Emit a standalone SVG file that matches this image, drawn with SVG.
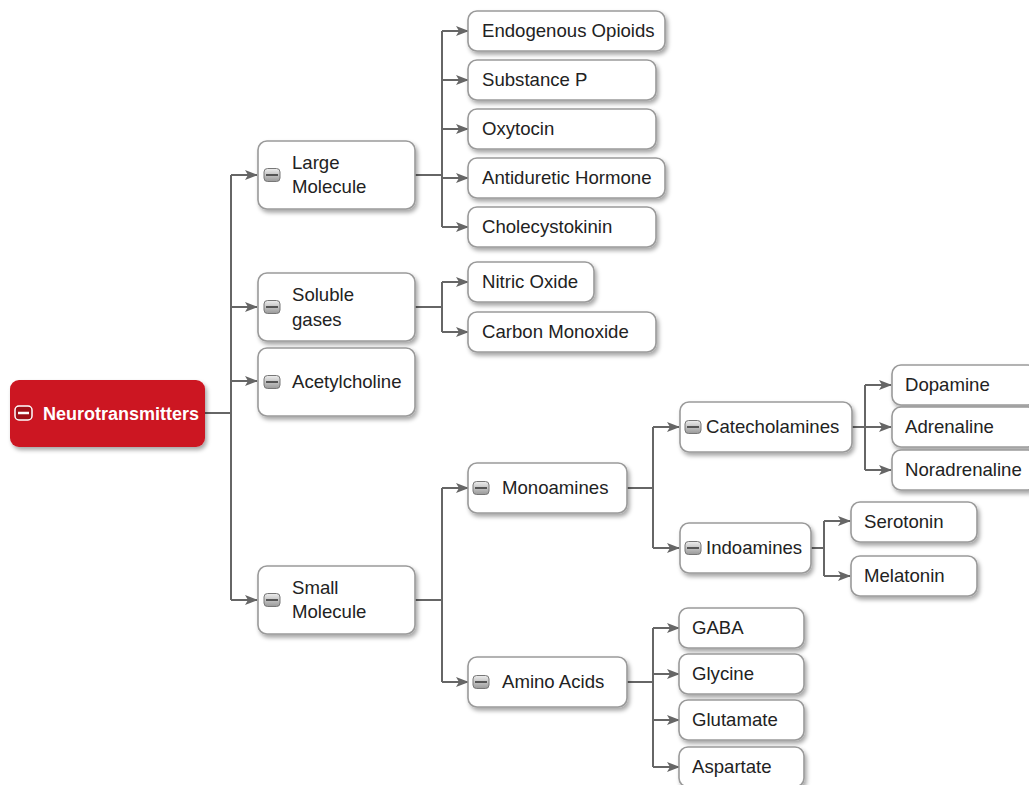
<svg xmlns="http://www.w3.org/2000/svg" width="1029" height="785" viewBox="0 0 1029 785">
<style>
.box{fill:#fff;stroke:#9a9a9a;stroke-width:1.6;filter:url(#sh)}
.t{font-family:"Liberation Sans",Arial,sans-serif;font-size:18.6px;fill:#222}
.root{fill:#cc1821;filter:url(#sh)}
.rt{font-family:"Liberation Sans",Arial,sans-serif;font-size:18px;font-weight:bold;fill:#fff}
.c{fill:none;stroke:#666;stroke-width:2}
.ca{fill:none;stroke:#666;stroke-width:2;marker-end:url(#ar)}
</style>
<defs>
<filter id="sh" x="-10%" y="-20%" width="130%" height="160%">
<feDropShadow dx="2" dy="3" stdDeviation="2.2" flood-color="#000" flood-opacity="0.35"/>
</filter>
<marker id="ar" markerUnits="userSpaceOnUse" markerWidth="14" markerHeight="12" refX="12" refY="6" orient="auto">
<path d="M0,1 L13,6 L0,11 L3,6 Z" fill="#666"/>
</marker>
<linearGradient id="ig" x1="0" y1="0" x2="0" y2="1">
<stop offset="0" stop-color="#eee"/>
<stop offset="1" stop-color="#999"/>
</linearGradient>
<g id="ic">
<rect x="-8" y="-6.5" width="16" height="13" rx="3.5" fill="url(#ig)" stroke="#777" stroke-width="1"/>
<line x1="-6" y1="0" x2="6" y2="0" stroke="#555" stroke-width="2"/>
</g>
</defs>
<rect width="1029" height="785" fill="#fff"/>

<g id="connectors">
<path class="c" d="M205,413 H231 M231,175 V600"/>
<path class="ca" d="M231,175 H257"/>
<path class="ca" d="M231,307 H257"/>
<path class="ca" d="M231,381 H257"/>
<path class="ca" d="M231,600 H257"/>

<path class="c" d="M415,175 H442 M442,31 V227"/>
<path class="ca" d="M442,31 H468"/>
<path class="ca" d="M442,80 H468"/>
<path class="ca" d="M442,129 H468"/>
<path class="ca" d="M442,178 H468"/>
<path class="ca" d="M442,227 H468"/>

<path class="c" d="M415,307 H442 M442,282 V332"/>
<path class="c" d="M415,307 H430" stroke-width="3.5"/>
<path class="ca" d="M442,282 H468"/>
<path class="ca" d="M442,332 H468"/>

<path class="c" d="M415,600 H442 M442,488 V682"/>
<path class="ca" d="M442,488 H468"/>
<path class="ca" d="M442,682 H468"/>

<path class="c" d="M627,488 H653 M653,427 V548"/>
<path class="ca" d="M653,427 H679"/>
<path class="ca" d="M653,548 H679"/>

<path class="c" d="M852,427 H865 M865,385 V470"/>
<path class="c" d="M852,427 H862" stroke-width="3.5"/>
<path class="ca" d="M865,385 H891"/>
<path class="ca" d="M865,427 H891"/>
<path class="ca" d="M865,470 H891"/>

<path class="c" d="M811,548 H824 M824,521 V576"/>
<path class="c" d="M811,548 H821" stroke-width="3.5"/>
<path class="ca" d="M824,521 H850"/>
<path class="ca" d="M824,576 H850"/>

<path class="c" d="M627,682 H653 M653,628 V767"/>
<path class="ca" d="M653,628 H679"/>
<path class="ca" d="M653,674 H679"/>
<path class="ca" d="M653,720 H679"/>
<path class="ca" d="M653,767 H679"/>
</g>

<g id="n-root">
<rect class="root" x="10" y="380" width="195" height="67" rx="9"/>
<rect x="15" y="406" width="17" height="14" rx="4" fill="#9e1018" stroke="#fff" stroke-width="1.5"/>
<line x1="18" y1="413" x2="29" y2="413" stroke="#fff" stroke-width="2.5"/>
<text class="rt" x="43" y="419.5">Neurotransmitters</text>
</g>

<g id="n-large">
<rect class="box" x="258" y="141" width="157" height="68" rx="9"/>
<use href="#ic" x="272" y="175"/>
<text class="t" x="292" y="169">Large</text>
<text class="t" x="292" y="193">Molecule</text>
</g>
<g id="n-soluble">
<rect class="box" x="258" y="273" width="157" height="68" rx="9"/>
<use href="#ic" x="272" y="307"/>
<text class="t" x="292" y="301">Soluble</text>
<text class="t" x="292" y="326">gases</text>
</g>
<g id="n-ach">
<rect class="box" x="258" y="348" width="157" height="68" rx="9"/>
<use href="#ic" x="272" y="382"/>
<text class="t" x="292" y="388">Acetylcholine</text>
</g>
<g id="n-small">
<rect class="box" x="258" y="566" width="157" height="68" rx="9"/>
<use href="#ic" x="272" y="600"/>
<text class="t" x="292" y="594">Small</text>
<text class="t" x="292" y="618">Molecule</text>
</g>

<g id="n-opioids"><rect class="box" x="468" y="11" width="197" height="40" rx="9"/><text class="t" x="482" y="37">Endogenous Opioids</text></g>
<g id="n-subp"><rect class="box" x="468" y="60" width="188" height="40" rx="9"/><text class="t" x="482" y="86">Substance P</text></g>
<g id="n-oxy"><rect class="box" x="468" y="109" width="188" height="40" rx="9"/><text class="t" x="482" y="135">Oxytocin</text></g>
<g id="n-adh"><rect class="box" x="468" y="158" width="197" height="40" rx="9"/><text class="t" x="482" y="184">Antiduretic Hormone</text></g>
<g id="n-cck"><rect class="box" x="468" y="207" width="188" height="40" rx="9"/><text class="t" x="482" y="233">Cholecystokinin</text></g>

<g id="n-no"><rect class="box" x="468" y="262" width="126" height="40" rx="9"/><text class="t" x="482" y="288">Nitric Oxide</text></g>
<g id="n-co"><rect class="box" x="468" y="312" width="188" height="40" rx="9"/><text class="t" x="482" y="338">Carbon Monoxide</text></g>

<g id="n-mono">
<rect class="box" x="468" y="463" width="159" height="50" rx="9"/>
<use href="#ic" x="481" y="488"/>
<text class="t" x="502" y="494">Monoamines</text>
</g>
<g id="n-amino">
<rect class="box" x="468" y="657" width="159" height="50" rx="9"/>
<use href="#ic" x="481" y="682"/>
<text class="t" x="502" y="688">Amino Acids</text>
</g>

<g id="n-cat">
<rect class="box" x="680" y="402" width="172" height="50" rx="9"/>
<use href="#ic" x="693" y="427"/>
<text class="t" x="706" y="433">Catecholamines</text>
</g>
<g id="n-indo">
<rect class="box" x="680" y="523" width="131" height="50" rx="9"/>
<use href="#ic" x="693" y="548"/>
<text class="t" x="706" y="554">Indoamines</text>
</g>

<g id="n-dopa"><rect class="box" x="892" y="365" width="145" height="40" rx="9"/><text class="t" x="905" y="391">Dopamine</text></g>
<g id="n-adr"><rect class="box" x="892" y="407" width="145" height="40" rx="9"/><text class="t" x="905" y="433">Adrenaline</text></g>
<g id="n-nor"><rect class="box" x="892" y="450" width="145" height="40" rx="9"/><text class="t" x="905" y="476">Noradrenaline</text></g>

<g id="n-sero"><rect class="box" x="851" y="502" width="126" height="40" rx="9"/><text class="t" x="864" y="528">Serotonin</text></g>
<g id="n-mela"><rect class="box" x="851" y="556" width="126" height="40" rx="9"/><text class="t" x="864" y="582">Melatonin</text></g>

<g id="n-gaba"><rect class="box" x="679" y="608" width="125" height="40" rx="9"/><text class="t" x="692" y="634">GABA</text></g>
<g id="n-gly"><rect class="box" x="679" y="654" width="125" height="40" rx="9"/><text class="t" x="692" y="680">Glycine</text></g>
<g id="n-glu"><rect class="box" x="679" y="700" width="125" height="40" rx="9"/><text class="t" x="692" y="726">Glutamate</text></g>
<g id="n-asp"><rect class="box" x="679" y="747" width="125" height="40" rx="9"/><text class="t" x="692" y="773">Aspartate</text></g>
</svg>
